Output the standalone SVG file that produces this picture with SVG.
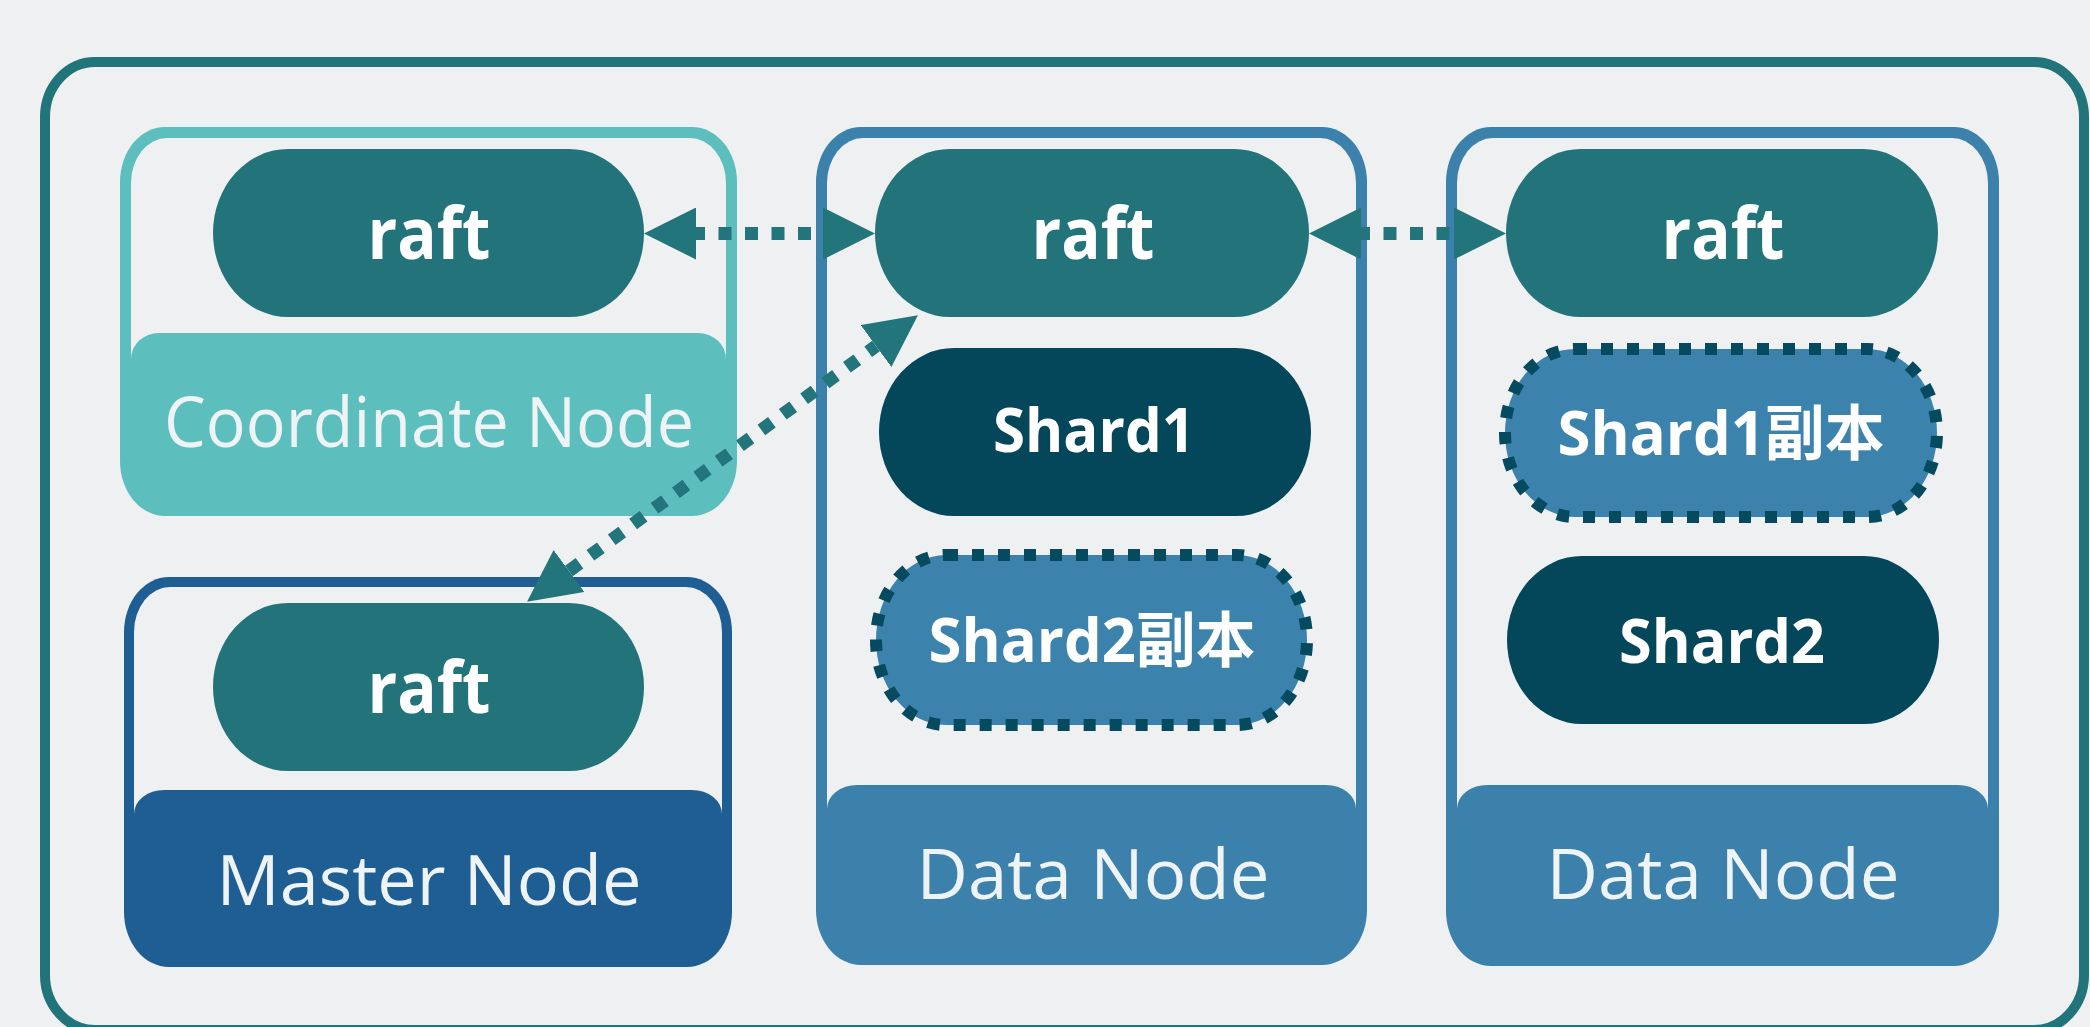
<svg xmlns="http://www.w3.org/2000/svg" width="2090" height="1027" viewBox="0 0 2090 1027">
  <style>
    .bg { fill: #EEF0F2; }
    .frame { fill: none; stroke: #21747A; stroke-width: 10; }
    .raft { fill: #22747A; }
    .shard { fill: #04465A; }
    .replica { fill: #3B82AC; stroke: #054A5F; stroke-width: 12; stroke-dasharray: 12 14; }
    .tb { font-family: "Open Sans", "Noto Sans CJK SC", sans-serif; font-weight: 700; fill: #FFFFFF; text-anchor: middle; }
    .tl { font-family: "Open Sans", sans-serif; font-weight: 400; fill: #EEF3F5; font-size: 70px; text-anchor: middle; }
    .conn { fill: none; stroke: #22757B; stroke-width: 13; stroke-dasharray: 13 13.5; }
    .coord { fill: #5DBFBD; }
    .master { fill: #1F5E92; }
    .data { fill: #3C81AB; }
  </style>
  <defs>
    <marker id="arrow" viewBox="0 0 52 52" refX="0" refY="26" markerWidth="52" markerHeight="52" markerUnits="userSpaceOnUse" orient="auto-start-reverse">
      <path d="M0,0 L52,26 L0,52 Z" fill="#22757B"/>
    </marker>
  </defs>

  <rect class="bg" x="0" y="0" width="2090" height="1027"/>
  <rect id="cluster-frame" class="frame" x="45" y="62" width="2039" height="968" rx="50" ry="55"/>

  <!-- Coordinate Node -->
  <g id="coordinate-node">
    <rect class="coord" x="120" y="127" width="617" height="389" rx="45" ry="55"/>
    <rect class="bg" x="131" y="138" width="595" height="275" rx="36" ry="45"/>
    <path class="coord" d="M131,359 A28,26 0 0 1 159,333 H698 A28,26 0 0 1 726,359 V456 H131 Z"/>
    <rect class="coord" x="120" y="400" width="617" height="61"/>
    <text class="tl" x="429" y="447" textLength="530" lengthAdjust="spacingAndGlyphs">Coordinate Node</text>
  </g>
  <g id="coordinate-raft">
    <rect class="raft" x="213" y="149" width="431" height="168" rx="75" ry="84"/>
    <text class="tb" x="429" y="259" font-size="72" textLength="123" lengthAdjust="spacingAndGlyphs">raft</text>
  </g>

  <!-- Master Node -->
  <g id="master-node">
    <rect class="master" x="124" y="577" width="608" height="390" rx="45" ry="55"/>
    <rect class="bg" x="134" y="587" width="588" height="285" rx="36" ry="45"/>
    <path class="master" d="M134,814 A30,24 0 0 1 164,790 H692 A30,24 0 0 1 722,814 V900 H134 Z"/>
    <rect class="master" x="124" y="850" width="608" height="62"/>
    <text class="tl" x="429" y="905" textLength="425" lengthAdjust="spacingAndGlyphs">Master Node</text>
  </g>
  <g id="master-raft">
    <rect class="raft" x="213" y="603" width="431" height="168" rx="75" ry="84"/>
    <text class="tb" x="429" y="713" font-size="72" textLength="123" lengthAdjust="spacingAndGlyphs">raft</text>
  </g>

  <!-- Data Node 1 -->
  <g id="data-node-1">
    <rect class="data" x="816" y="127" width="551" height="838" rx="45" ry="55"/>
    <rect class="bg" x="827" y="138" width="529" height="730" rx="36" ry="45"/>
    <path class="data" d="M827,809 A30,24 0 0 1 857,785 H1326 A30,24 0 0 1 1356,809 V900 H827 Z"/>
    <rect class="data" x="816" y="850" width="551" height="61"/>
    <text class="tl" x="1093" y="899" textLength="353" lengthAdjust="spacingAndGlyphs">Data Node</text>
  </g>
  <g id="data1-raft">
    <rect class="raft" x="875" y="149" width="434" height="168" rx="75" ry="84"/>
    <text class="tb" x="1093" y="259" font-size="72" textLength="123" lengthAdjust="spacingAndGlyphs">raft</text>
  </g>
  <g id="data1-shard1">
    <rect class="shard" x="879" y="348" width="432" height="168" rx="75" ry="84"/>
    <text class="tb" x="1094" y="452" font-size="60" textLength="202" lengthAdjust="spacingAndGlyphs">Shard1</text>
  </g>
  <g id="data1-shard2-replica">
    <rect class="replica" x="876" y="555" width="431" height="170" rx="70" ry="85"/>
    <text class="tb" x="1092" y="662" font-size="60" textLength="327" lengthAdjust="spacingAndGlyphs">Shard2副本</text>
  </g>

  <!-- Data Node 2 -->
  <g id="data-node-2">
    <rect class="data" x="1446" y="127" width="553" height="839" rx="45" ry="55"/>
    <rect class="bg" x="1457" y="138" width="531" height="730" rx="36" ry="45"/>
    <path class="data" d="M1457,809 A30,24 0 0 1 1487,785 H1958 A30,24 0 0 1 1988,809 V900 H1457 Z"/>
    <rect class="data" x="1446" y="850" width="553" height="62"/>
    <text class="tl" x="1723" y="899" textLength="353" lengthAdjust="spacingAndGlyphs">Data Node</text>
  </g>
  <g id="data2-raft">
    <rect class="raft" x="1506" y="149" width="432" height="168" rx="75" ry="84"/>
    <text class="tb" x="1723" y="259" font-size="72" textLength="123" lengthAdjust="spacingAndGlyphs">raft</text>
  </g>
  <g id="data2-shard1-replica">
    <rect class="replica" x="1505" y="349" width="432" height="168" rx="70" ry="84"/>
    <text class="tb" x="1721" y="455" font-size="60" textLength="327" lengthAdjust="spacingAndGlyphs">Shard1副本</text>
  </g>
  <g id="data2-shard2">
    <rect class="shard" x="1507" y="556" width="432" height="168" rx="75" ry="84"/>
    <text class="tb" x="1722" y="663" font-size="60" textLength="206" lengthAdjust="spacingAndGlyphs">Shard2</text>
  </g>

  <!-- Connectors -->
  <g id="connectors">
    <line class="conn" x1="696" y1="233.5" x2="823" y2="233.5" stroke-dashoffset="4" marker-start="url(#arrow)" marker-end="url(#arrow)"/>
    <line class="conn" x1="1361" y1="233.5" x2="1454" y2="233.5" stroke-dashoffset="4" marker-start="url(#arrow)" marker-end="url(#arrow)"/>
    <line class="conn" x1="569" y1="571" x2="876" y2="346" marker-start="url(#arrow)" marker-end="url(#arrow)"/>
  </g>
</svg>
